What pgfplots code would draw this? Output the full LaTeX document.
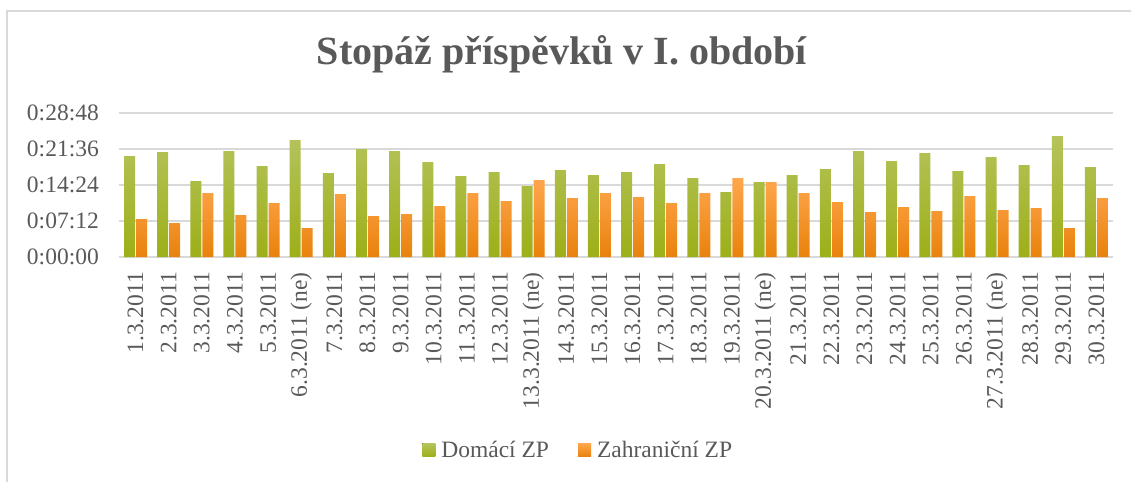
\documentclass[border=0pt]{standalone}
\usepackage{fontspec}
\setmainfont{Liberation Serif}
\usepackage{pgfplots}
\usepackage{pgfplotstable}
\pgfplotsset{compat=1.18}
\definecolor{txt}{HTML}{595959}
\definecolor{gridc}{HTML}{D9D9D9}
\definecolor{gtop}{HTML}{B5C35C}
\definecolor{gmid}{HTML}{ACBF22}
\definecolor{gbot}{HTML}{9DAF18}
\definecolor{otop}{HTML}{FFA74E}
\definecolor{omid}{HTML}{FF9A0C}
\definecolor{obot}{HTML}{E8820C}
% values in minutes
\pgfplotstableread{
x dom zah
0 20.2 7.6
1 21.0 6.8
2 15.2 12.8
3 21.2 8.4
4 18.2 10.8
5 23.4 5.8
6 16.8 12.6
7 21.6 8.2
8 21.2 8.6
9 19.0 10.2
10 16.2 12.8
11 17.0 11.2
12 14.2 15.4
13 17.4 11.8
14 16.4 12.8
15 17.0 12.0
16 18.6 10.8
17 15.8 12.8
18 13.0 15.8
19 15.0 15.0
20 16.4 12.8
21 17.6 11.0
22 21.2 9.0
23 19.2 10.0
24 20.8 9.2
25 17.2 12.2
26 20.0 9.4
27 18.4 9.8
28 24.2 5.8
29 18.0 11.8
}\data
\begin{document}
\begin{tikzpicture}[x=1pt,y=1pt]
\path[use as bounding box] (0,0) rectangle (1131,-482);
\draw[gridc, line width=1.5pt] (7,-482) -- (7,-11) -- (1131,-11);
\node[font=\bfseries\fontsize{40}{45}\selectfont, text=txt, anchor=base] at (562,-64) {Stopáž příspěvků v I. období};
\begin{axis}[
  at={(119pt,-257pt)}, anchor=south west,
  scale only axis, width=994pt, height=144pt,
  ymin=0, ymax=28.8, xmin=-0.5, xmax=29.5,
  ybar=1pt, bar width=11pt,
  axis line style={draw=none},
  major tick length=0pt,
  ymajorgrids, grid style={gridc, line width=1.3pt},
  ytick={0,7.2,14.4,21.6,28.8},
  yticklabels={0:00:00,0:07:12,0:14:24,0:21:36,0:28:48},
  xtick={0,...,29},
  xticklabels={1.3.2011,2.3.2011,3.3.2011,4.3.2011,5.3.2011,6.3.2011 (ne),7.3.2011,8.3.2011,9.3.2011,10.3.2011,11.3.2011,12.3.2011,13.3.2011 (ne),14.3.2011,15.3.2011,16.3.2011,17.3.2011,18.3.2011,19.3.2011,20.3.2011 (ne),21.3.2011,22.3.2011,23.3.2011,24.3.2011,25.3.2011,26.3.2011,27.3.2011 (ne),28.3.2011,29.3.2011,30.3.2011},
  tick label style={font=\fontsize{23.5}{27}\selectfont, text=txt, inner sep=0pt},
  xticklabel style={rotate=90, anchor=east},
  xticklabel shift=15pt,
  yticklabel shift=20pt,
  legend style={at={(0.462,-1.34)}, anchor=center, draw=none, fill=none,
    legend columns=2, font=\fontsize{23.5}{27}\selectfont, text=txt,
    /tikz/every even column/.append style={column sep=27pt},
    legend cell align=left},
]
\addplot[draw=none, top color=gtop, middle color=gmid, bottom color=gbot,
  legend image code/.code={\fill[top color=gtop, middle color=gmid, bottom color=gbot] (0pt,-6.5pt) rectangle (13pt,6.5pt); \path (13pt,0pt) -- (17pt,0pt);}]
  table[x=x, y=dom] {\data};
\addplot[draw=none, top color=otop, middle color=omid, bottom color=obot,
  legend image code/.code={\fill[top color=otop, middle color=omid, bottom color=obot] (0pt,-6.5pt) rectangle (13pt,6.5pt); \path (13pt,0pt) -- (17pt,0pt);}]
  table[x=x, y=zah] {\data};
\legend{Domácí ZP, Zahraniční ZP}
\end{axis}
\end{tikzpicture}
\end{document}
